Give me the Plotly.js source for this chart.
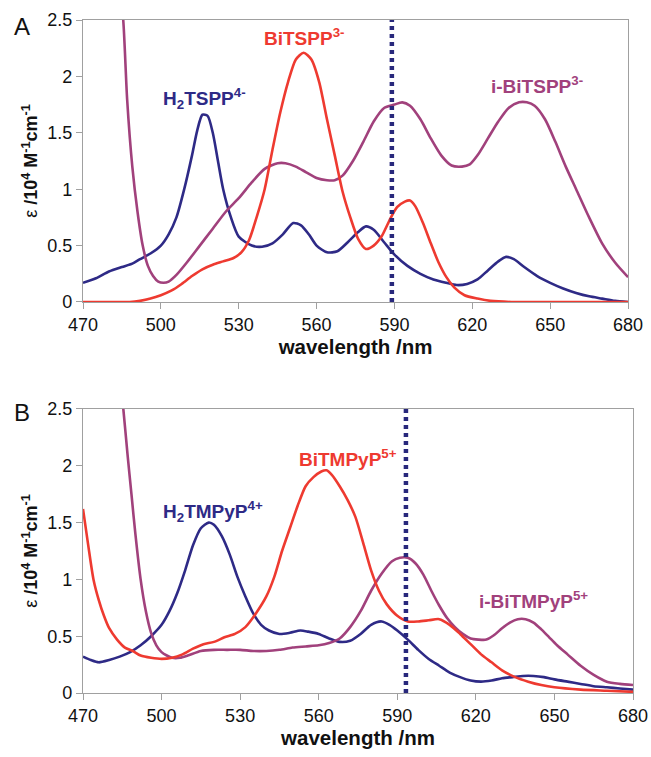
<!DOCTYPE html>
<html>
<head>
<meta charset="utf-8">
<script src="https://cdn.plot.ly/plotly-3.0.1.min.js"></script>
<style>html,body{margin:0;padding:0;background:#fff}#chart{width:651px;height:757px}</style>
</head>
<body>
<div id="chart"></div>
<script>
// ---------- Panel A data ----------
const aBlueX = [470,475,480,485,489,492,496,500,503,506,509,512,514,516,518,520,522,524,527,530,535,539,543,547,551,554,557,560,564,568,572,576,579,582,586,590,595,600,605,610,614,618,622,626,630,633,636,640,645,650,655,660,665,670,675,680];
const aBlueY = [0.17,0.21,0.27,0.31,0.34,0.38,0.43,0.5,0.6,0.75,1.0,1.3,1.52,1.66,1.65,1.5,1.25,1.0,0.75,0.58,0.5,0.49,0.52,0.6,0.70,0.68,0.6,0.5,0.44,0.45,0.53,0.62,0.67,0.64,0.53,0.42,0.32,0.25,0.2,0.17,0.15,0.16,0.2,0.28,0.36,0.40,0.38,0.31,0.23,0.17,0.12,0.08,0.05,0.03,0.01,0];

const aRedX = [470,480,488,492,496,500,504,508,512,516,520,524,528,531,534,537,540,543,546,549,552,555,558,561,564,567,570,573,576,579,582,585,588,591,594,596,598,601,604,607,610,613,617,622,627,635,645,655,665,680];
const aRedY = [0,0,0,0.01,0.03,0.06,0.1,0.16,0.23,0.29,0.33,0.36,0.39,0.44,0.55,0.76,1.0,1.35,1.68,1.95,2.15,2.21,2.15,1.95,1.62,1.3,0.98,0.75,0.56,0.47,0.5,0.58,0.72,0.84,0.89,0.9,0.85,0.7,0.52,0.35,0.22,0.13,0.06,0.03,0.01,0,0,0,0,0];

const aPurpX = [484,485.5,487,489,491,493,495,497,499,501,503,506,510,515,520,525,530,535,540,545,548,552,556,560,564,567,570,574,578,582,586,590,593,596,600,604,608,612,616,619,622,626,630,634,638,641,644,648,652,656,660,665,670,675,680];
const aPurpY = [2.8,2.5,1.8,1.2,0.8,0.5,0.32,0.23,0.18,0.17,0.18,0.24,0.35,0.5,0.65,0.8,0.92,1.06,1.18,1.23,1.23,1.2,1.15,1.1,1.08,1.08,1.12,1.25,1.42,1.6,1.72,1.75,1.77,1.74,1.62,1.45,1.3,1.21,1.2,1.22,1.3,1.45,1.6,1.72,1.77,1.77,1.74,1.62,1.42,1.2,1.0,0.75,0.52,0.35,0.22];

const aMarkX = [589,589];
const aMarkY = [0,2.5];

// ---------- Panel B data ----------
const bBlueX = [470,473,476,480,484,488,492,496,500,503,506,509,512,515,518,520,523,526,529,532,535,538,541,545,549,553,556,560,564,568,572,576,580,584,587,590,594,598,602,606,610,614,618,622,626,630,634,638,642,646,650,655,660,665,670,675,680];
const bBlueY = [0.32,0.29,0.27,0.29,0.32,0.36,0.42,0.5,0.6,0.72,0.88,1.08,1.3,1.45,1.5,1.48,1.38,1.22,1.02,0.85,0.7,0.6,0.55,0.52,0.53,0.55,0.54,0.52,0.48,0.45,0.46,0.52,0.6,0.63,0.6,0.55,0.47,0.38,0.3,0.24,0.18,0.14,0.11,0.1,0.11,0.13,0.14,0.15,0.15,0.14,0.12,0.1,0.08,0.06,0.05,0.04,0.03];

const bRedX = [470,472,474,476,478,480,483,486,489,492,496,500,504,508,512,516,520,524,528,532,536,540,543,546,549,552,555,558,561,563,565,568,571,574,577,580,583,586,590,594,598,602,606,610,614,618,622,626,630,635,640,645,650,660,670,680];
const bRedY = [1.62,1.3,1.0,0.82,0.68,0.57,0.47,0.4,0.37,0.33,0.31,0.30,0.31,0.34,0.39,0.43,0.45,0.49,0.52,0.58,0.7,0.85,1.02,1.25,1.45,1.65,1.82,1.9,1.95,1.96,1.92,1.82,1.7,1.55,1.32,1.08,0.9,0.78,0.68,0.63,0.63,0.64,0.65,0.6,0.52,0.43,0.34,0.27,0.2,0.14,0.1,0.07,0.05,0.03,0.02,0.01];

const bPurpX = [484,485.4,487,488.5,490,492,494,496,498,500,502,504,507,510,515,520,525,530,535,540,545,550,555,560,564,568,572,576,580,584,588,591,594,597,600,603,606,609,612,615,618,621,624,627,630,633,636,639,642,645,648,651,655,660,665,670,675,680];
const bPurpY = [2.8,2.5,2.1,1.75,1.4,1.0,0.72,0.53,0.42,0.36,0.33,0.31,0.31,0.33,0.37,0.38,0.38,0.38,0.37,0.37,0.38,0.40,0.41,0.42,0.44,0.48,0.58,0.72,0.9,1.05,1.16,1.19,1.19,1.14,1.04,0.9,0.77,0.66,0.58,0.52,0.48,0.47,0.47,0.51,0.57,0.62,0.65,0.65,0.62,0.56,0.49,0.42,0.34,0.24,0.16,0.1,0.08,0.07];

const bMarkX = [593.3,593.3];
const bMarkY = [0,2.5];

// ---------- tick labels ----------
const xTicks = [470,500,530,560,590,620,650,680];
const yTicks = [0,0.5,1,1.5,2,2.5];
const yTickText = ['0','0.5','1','1.5','2','2.5'];

const NAVY = '#2e2a86', RED = '#ee3a30', PURP = '#a1417c', MARK = '#28287c';
const LW = 2.6;

function line(x, y, color, xa, ya, extra) {
  return Object.assign({
    x: x, y: y, xaxis: xa, yaxis: ya, type: 'scatter', mode: 'lines',
    line: {color: color, width: LW, shape: 'spline', smoothing: 0.7},
    hoverinfo: 'skip', showlegend: false
  }, extra || {});
}

const traces = [
  line(aBlueX, aBlueY, NAVY, 'x', 'y'),
  line(aPurpX, aPurpY, PURP, 'x', 'y'),
  line(aRedX, aRedY, RED, 'x', 'y'),
  line(aMarkX, aMarkY, MARK, 'x', 'y', {line: {color: MARK, width: 4.5, dash: '4px,4px'}}),
  line(bBlueX, bBlueY, NAVY, 'x2', 'y2'),
  line(bPurpX, bPurpY, PURP, 'x2', 'y2'),
  line(bRedX, bRedY, RED, 'x2', 'y2'),
  line(bMarkX, bMarkY, MARK, 'x2', 'y2', {line: {color: MARK, width: 4.5, dash: '4px,4px'}})
];

const FONT = 'Arial, "Liberation Sans", sans-serif';
const tickFont = {family: FONT, size: 18, color: '#111'};
const yTitle = '\u03b5 <b>/10<sup>4</sup> M<sup>-1</sup>cm<sup>-1</sup></b>';

function xAxis(domain, anchor) {
  return {
    domain: domain, anchor: anchor, range: [470, 680], tickvals: xTicks,
    showline: true, mirror: true, linecolor: '#a0a0a0', linewidth: 1.2,
    ticks: 'outside', ticklen: 6, tickcolor: '#a0a0a0', showgrid: false, zeroline: false,
    tickfont: tickFont, fixedrange: true,
    title: {text: '<b>wavelength /nm</b>', font: {family: FONT, size: 20.5, color: '#111'}, standoff: 5}
  };
}
function yAxis(domain, anchor) {
  return {
    domain: domain, anchor: anchor, range: [0, 2.5], tickvals: yTicks, ticktext: yTickText,
    showline: true, mirror: true, linecolor: '#a0a0a0', linewidth: 1.2,
    ticks: 'outside', ticklen: 6, tickcolor: '#a0a0a0', showgrid: false, zeroline: false,
    tickfont: tickFont, fixedrange: true,
    title: {text: yTitle, font: {family: FONT, size: 18, color: '#111'}, standoff: 4}
  };
}

function lab(text, x, y, color, xr, yr) {
  return {text: '<b>' + text + '</b>', x: x, y: y, xref: xr, yref: yr, showarrow: false,
    font: {family: FONT, size: 19, color: color}, xanchor: 'center', yanchor: 'middle'};
}

const layout = {
  width: 651, height: 757,
  margin: {l: 83, r: 18, t: 20, b: 64},
  paper_bgcolor: '#fff', plot_bgcolor: '#fff',
  xaxis: xAxis([0, 0.991], 'y'),
  yaxis: yAxis([0.581, 1], 'x'),
  xaxis2: xAxis([0, 1], 'y2'),
  yaxis2: yAxis([0, 0.422], 'x2'),
  annotations: [
    lab('H<sub>2</sub>TSPP<sup>4-</sup>', 517, 1.8, NAVY, 'x', 'y'),
    lab('BiTSPP<sup>3-</sup>', 555, 2.35, RED, 'x', 'y'),
    lab('i-BiTSPP<sup>3-</sup>', 645, 1.92, PURP, 'x', 'y'),
    lab('H<sub>2</sub>TMPyP<sup>4+</sup>', 519.5, 1.6, NAVY, 'x2', 'y2'),
    lab('BiTMPyP<sup>5+</sup>', 571, 2.07, RED, 'x2', 'y2'),
    lab('i-BiTMPyP<sup>5+</sup>', 642, 0.82, PURP, 'x2', 'y2'),
    {text: 'A', x: 22, y: 27, xref: 'paper', yref: 'paper', showarrow: false,
     font: {family: FONT, size: 24, color: '#111'}, xanchor: 'center', yanchor: 'middle'},
    {text: 'B', x: 22, y: 413, xref: 'paper', yref: 'paper', showarrow: false,
     font: {family: FONT, size: 24, color: '#111'}, xanchor: 'center', yanchor: 'middle'}
  ]
};
// convert pixel positions of panel letters to paper coordinates
layout.annotations.slice(-2).forEach(a => {
  a.x = (a.x - 83) / 550;
  a.y = (757 - 64 - a.y) / 673;
});

Plotly.newPlot('chart', traces, layout, {staticPlot: true, displayModeBar: false});
</script>
</body>
</html>
